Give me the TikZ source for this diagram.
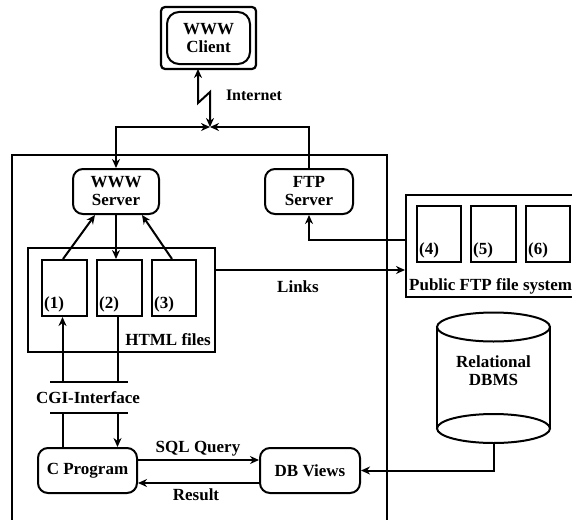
\documentclass[tikz,border=0pt]{standalone}
\usepackage{fontspec}
\setmainfont{Liberation Serif}
\usetikzlibrary{arrows.meta}
\begin{document}
\begin{tikzpicture}[x=1pt,y=-1pt,
  every node/.style={font=\bfseries\fontsize{17}{18}\selectfont, inner sep=0pt},
  cline/.style={line width=2pt},
  rbox/.style={draw, line width=2pt, rounded corners=10pt, align=center},
  fbox/.style={draw, line width=2pt},
  >={Stealth[length=9pt,width=8pt]}]
\useasboundingbox (0,0) rectangle (572,519);
% outer system box
\draw[cline] (12,530) -- (12,155) -- (387,155) -- (387,530);
% client
\node[rbox, rounded corners=12pt, minimum width=83pt, minimum height=52pt] (client) at (208.5,38) {WWW\\Client};
\draw[line width=2.2pt, rounded corners=4pt] ([shift={(-5,-4)}]client.north west) rectangle ([shift={(5,4)}]client.south east);
% servers
\node[rbox, minimum width=86pt, minimum height=45pt] (www) at (116,191.5) {WWW\\Server};
\node[rbox, minimum width=88pt, minimum height=45pt] (ftp) at (309,191.5) {FTP\\Server};
% internet
\coordinate (J) at (210,127);
\node[font=\bfseries\fontsize{16}{17}\selectfont] (inet) at (254,95) {Internet};
\draw[cline,<->] ([xshift=-10.5pt,yshift=-4pt]client.south) -- (198,103) -- (210,92) -- (J);
\draw[cline,<->] (J) -| (www.north);
\draw[cline,<-] (J) -| (ftp.north);
% HTML files
\node[fbox, minimum width=187pt, minimum height=104pt] (html) at (121.5,300) {};
\node[anchor=east] (htmllbl) at (211,340) {HTML files};
\node[fbox, minimum width=45pt, minimum height=56pt] (f1) at (64.5,288) {};
\node[fbox, minimum width=45pt, minimum height=56pt] (f2) at (119.5,288) {};
\node[fbox, minimum width=44pt, minimum height=56pt] (f3) at (174,288) {};
\node[anchor=west] (l1) at ([xshift=3pt,yshift=13pt]f1.south west) {(1)};
\node[anchor=west] (l2) at ([xshift=3pt,yshift=13pt]f2.south west) {(2)};
\node[anchor=west] (l3) at ([xshift=3pt,yshift=13pt]f3.south west) {(3)};
\draw[cline,->] ([xshift=-1.5pt]f1.north) -- ([xshift=-21pt]www.south);
\draw[cline,->] (www.south) -- (www.south |- f2.north);
\draw[cline,->] ([xshift=-2pt]f3.north) -- ([xshift=26pt]www.south);
% public ftp
\node[fbox, minimum width=184pt, minimum height=102pt] (pub) at (498,246) {};
\node[fbox, minimum width=44pt, minimum height=56pt] (f4) at (439,234) {};
\node[fbox, minimum width=45pt, minimum height=56pt] (f5) at (493.5,234) {};
\node[fbox, minimum width=44pt, minimum height=56pt] (f6) at (548,234) {};
\node[anchor=west] (l4) at ([xshift=3pt,yshift=13pt]f4.south west) {(4)};
\node[anchor=west] (l5) at ([xshift=3pt,yshift=13pt]f5.south west) {(5)};
\node[anchor=west] (l6) at ([xshift=3pt,yshift=13pt]f6.south west) {(6)};
\node[anchor=west] (publbl) at (409,286) {Public FTP file system};
\draw[cline,->] ([yshift=6pt]pub.west) -| (ftp.south);
\draw[cline,->] ([yshift=30pt]html.east) -- ([yshift=30pt]html.east -| pub.west);
\node (links) at (298,287) {Links};
% CGI
\coordinate (cuL) at (50,382); \coordinate (cuR) at (128,382);
\coordinate (clL) at (50,413); \coordinate (clR) at (128,413);
\draw[cline] (cuL) -- (cuR);
\draw[cline] (clL) -- (clR);
\node (cgi) at (88,398) {CGI-Interface};
\draw[cline,<-] ([xshift=-2pt]f1.south) -- ([xshift=-2pt]f1.south |- cuL);
\draw[cline] ([xshift=-2pt]f2.south) -- ([xshift=-2pt]f2.south |- cuL);
% C program and DB views
\node[rbox, minimum width=99pt, minimum height=45pt] (cprog) at (87.5,470.5) {C Program};
\node[rbox, minimum width=100pt, minimum height=45pt] (dbv) at (310,470.5) {DB Views};
\draw[cline] ([xshift=-2pt]f1.south |- clL) -- ([xshift=-2pt]f1.south |- cprog.north);
\draw[cline,->] ([xshift=-2pt]f2.south |- clL) -- ([xshift=-2pt]f2.south |- cprog.north);
\draw[cline,->] ([yshift=10.5pt]cprog.east) -- ([yshift=10.5pt]dbv.west);
\draw[cline,->] ([yshift=-12.5pt]dbv.west) -- ([yshift=-12.5pt]cprog.east);
\node (sql) at (198,449) {SQL Query};
\node (res) at (196,495) {Result};
% DBMS cylinder
\draw[cline] (493.5,327) ellipse [x radius=56.5pt, y radius=14.5pt];
\draw[cline] (493.5,428.5) ellipse [x radius=56.5pt, y radius=14.5pt];
\draw[cline] (437,327) -- (437,428.5);
\draw[cline] (550,327) -- (550,428.5);
\node[align=center, font=\bfseries\fontsize{17}{18}\selectfont] (dbms) at (493.5,371) {Relational\\DBMS};
\coordinate (dbb) at (493.5,443);
\draw[cline,->] (dbb) |- (dbv.east);
\end{tikzpicture}
\end{document}
